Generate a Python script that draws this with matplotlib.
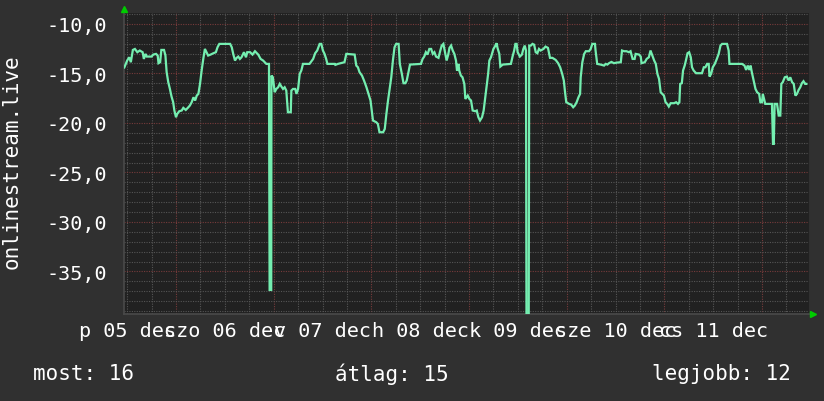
import matplotlib
matplotlib.use('Agg')
import matplotlib.pyplot as plt
from matplotlib.ticker import FixedLocator, FuncFormatter

# ---- data: hours since 06 dec 00:00, value ----
hours = [-12.7, -12.0, -11.5, -11.1, -10.6, -10.1, -9.5, -8.9, -8.2, -7.9, -7.5, -7.2, -6.0, -5.6,
         -4.9, -4.5, -4.3, -3.9, -3.6, -2.95, -2.6, -2.3, -1.9, -1.5, -1.1, -0.7, -0.4, 0.0, 0.3,
         0.8, 1.4, 1.8, 2.4, 2.9, 3.4, 3.85, 4.3, 4.7, 5.1, 5.5, 5.9, 6.3, 6.7, 7.1, 7.5, 7.9, 8.5,
         9.2, 9.8, 10.2, 10.65, 13.3, 13.7, 14.1, 14.5, 14.9, 15.3, 15.7, 16.1, 16.7, 17.2, 17.5,
         18.2, 18.8, 19.4, 20.2,
         20.8, 21.4, 22.2, 22.85, 23.0, 23.4, 23.45, 23.8, 24.25, 24.65, 25.1, 25.5, 25.9, 26.3,
         26.7, 27.1, 27.5, 28.2, 28.35, 28.75, 29.3, 29.6, 30.0, 30.4, 30.8, 31.2, 32.8, 33.7,
         34.2, 34.7, 35.3, 35.7, 36.1, 36.5, 36.9, 37.2, 39.0, 39.15, 39.8, 41.4, 41.85, 43.9,
         44.3, 44.7, 45.1, 45.7, 46.2, 46.8, 47.3, 47.8, 48.4, 49.2, 49.6, 50.0, 50.9, 51.3,
         51.7, 52.1, 52.5, 52.9, 53.3, 53.7, 54.1,
         54.7, 55.0, 55.5, 55.9, 56.35, 56.7, 57.2, 57.5, 60.2, 60.6, 61.0, 61.4, 61.8, 62.25,
         62.7, 63.1, 63.5, 63.9, 64.5, 64.95, 65.3, 65.7, 66.1, 66.5, 66.9, 67.2, 67.6, 68.0,
         68.4, 68.8, 69.05, 69.4, 69.6, 70.0, 70.4, 70.85, 71.1, 71.7, 72.1, 72.5, 72.9, 73.55,
         73.9, 74.3, 74.7, 75.2, 75.6, 76.0, 76.4, 76.7, 77.0, 77.4, 78.0, 78.5, 78.8, 79.0,
         79.45, 79.7, 80.3, 82.3, 82.7, 83.1, 83.4, 83.7, 83.95, 84.5, 85.0, 85.35, 85.7, 86.0,
         86.15, 86.65, 86.8, 87.2, 87.6, 88.0,
         88.4, 88.8, 89.2, 89.6, 90.3, 90.8, 91.4, 91.9, 92.5, 93.3, 93.9, 94.4, 94.9, 95.3,
         95.6, 95.9, 96.6, 97.1, 97.6, 98.0, 98.45, 98.9, 99.3, 99.45, 99.85, 100.3, 100.7,
         101.5, 101.9, 102.3, 102.95, 103.1, 103.5, 104.35, 105.2, 105.6, 106.0, 106.4, 107.0,
         107.6, 108.3, 109.3, 109.6, 110.1, 110.7, 111.3, 111.7, 112.2, 112.7, 112.95, 113.8,
         114.2, 114.4, 115.2, 115.65, 116.2, 116.6, 117.05, 117.5, 117.9, 118.3, 118.7, 119.1,
         119.5, 119.9, 120.3, 120.7, 121.1, 121.55, 122.4,
         122.9, 123.35, 123.7, 123.9, 124.3, 124.6, 125.0, 125.3, 125.7, 126.1, 126.5, 126.8,
         127.2, 127.8, 129.25, 129.7, 130.1, 130.5, 130.9, 131.1, 131.5, 131.9, 132.4, 132.9,
         133.35, 133.8, 134.2, 135.4, 135.8, 136.0, 139.1, 139.7, 140.1, 140.5, 140.9, 141.2,
         141.5, 141.95, 142.4, 142.8, 143.3, 143.6, 144.0, 144.2, 144.6, 144.8, 146.45, 146.7,
         146.9, 147.1, 147.7, 148.1, 148.5, 148.75, 149.1, 149.6, 150.1, 150.55, 150.95, 151.4,
         151.8, 152.2, 152.6, 153.0, 153.4, 153.8, 154.2, 154.6, 154.9]

values = [-14.4, -13.7, -13.37, -13.87, -12.63, -12.53, -12.86, -12.69, -12.86, -13.54, -13.03,
          -13.3, -13.3, -13.1, -13.03, -13.2, -13.97, -13.87, -12.63, -12.63, -13.2, -14.88,
          -15.89, -16.57, -17.34, -17.91, -18.75, -19.43, -19.09, -18.82, -18.75, -18.48, -18.69,
          -18.48, -18.25, -17.91, -17.41, -17.74, -17.24, -17.07, -16.06, -14.71, -13.54, -12.53,
          -12.86, -13.2, -13.1, -12.96, -12.86, -12.36, -12.02, -12.02, -12.36, -13.1, -13.7,
          -13.43, -13.3, -13.54, -13.37, -12.86, -13.37, -12.86, -12.86, -13.1, -12.76, -13.1,
          -13.54, -13.7, -14.04, -14.04, -36.87, -36.87, -15.22, -15.39, -16.9, -16.57, -16.4,
          -16.06, -16.33, -16.57, -16.4, -16.73, -18.92, -18.92, -16.73, -16.57, -16.57, -17.07,
          -16.57, -15.05, -14.71, -14.04, -14.04, -13.54, -12.96, -12.69, -12.02, -12.02, -12.69,
          -13.03, -13.54, -14.04, -14.04, -14.14, -14.04, -13.87, -13.03, -13.1, -14.21, -14.38,
          -14.88, -15.22, -15.72, -16.4, -17.07, -17.74, -19.76, -19.93, -20.1, -20.94, -20.94,
          -20.61, -19.09, -17.74, -16.57, -15.39, -13.7, -12.36, -12.02,
          -12.02, -14.04, -15.05, -15.99, -15.99, -15.72, -14.71, -14.11, -14.04, -13.54, -13.3,
          -12.86, -13.1, -12.53, -12.53, -13.03, -12.86, -13.3, -13.43, -12.69, -12.19, -12.02,
          -12.86, -13.7, -13.1, -12.42, -12.19, -12.69, -13.03, -13.7, -14.71, -14.04, -14.71,
          -15.22, -15.39, -16.06, -17.58, -17.24, -17.58, -17.74, -18.75, -18.82, -18.75, -19.43,
          -19.76, -19.43, -18.75, -17.41, -16.06, -15.05, -13.7, -13.37, -12.53, -12.19, -11.95,
          -12.42, -13.03, -14.31, -14.11, -14.04, -13.3, -12.69, -12.02, -12.02, -12.86, -13.3,
          -13.1, -12.53, -12.19, -12.69, -45.0, -45.0, -12.19, -12.19, -12.02, -12.1,
          -12.86, -12.96, -12.53, -12.69, -12.53, -12.29, -12.42, -13.43, -13.43, -13.64, -13.97,
          -14.38, -15.05, -15.72, -16.9, -17.91, -18.08, -18.15, -18.42, -18.25, -17.91, -17.41,
          -17.07, -15.39, -13.87, -13.03, -12.76, -12.76, -12.53, -12.02, -12.02, -12.69, -14.04,
          -14.11, -14.21, -14.04, -14.11, -13.97, -13.84, -13.97, -13.91, -13.87, -12.69, -12.76,
          -12.76, -12.86, -12.76, -13.54, -13.54, -13.03, -13.1, -13.3, -13.97, -13.87, -13.54,
          -13.37, -12.69, -13.2, -13.7, -14.04, -15.05, -15.56, -16.9, -17.07, -17.24, -17.91,
          -18.08, -18.35, -18.01, -18.01,
          -17.91, -18.08, -17.91, -16.06, -15.99, -14.71, -14.21, -13.7, -12.96, -12.86, -13.37,
          -14.38, -14.71, -14.98, -14.98, -14.38, -14.38, -14.04, -14.04, -15.32, -15.05, -14.38,
          -14.04, -13.54, -13.03, -12.19, -12.02, -12.02, -12.69, -14.04, -14.04, -14.21, -14.65,
          -14.21, -14.65, -14.21, -14.88, -15.72, -16.57, -16.9, -17.07, -17.91, -17.91, -17.07,
          -17.74, -18.08, -18.08, -22.12, -22.12, -18.08, -18.08, -19.26, -19.26, -16.06, -15.89,
          -15.39, -15.32, -15.72, -15.39, -15.89, -16.06, -17.24, -17.07, -16.67, -16.4, -15.99,
          -15.79, -16.06, -16.06]

day_label_hours = [-12, 12, 36, 60, 84, 108, 132]
day_labels = ['p 05 dec', 'szo 06 dec', 'v 07 dec', 'h 08 dec', 'k 09 dec', 'sze 10 dec', 'cs 11 dec']
y_ticks = [-35, -30, -25, -20, -15, -10]
y_label = 'onlinestream.live'
stat_names = ['most', 'átlag', 'legjobb']
stat_values = [16, 15, 12]

# ---- style ----
BG = '#303030'
PLOT_BG = '#212121'
LINE = '#74eeb0'
MINOR = '#555555'
MAJOR = '#773b3b'
FONT = 'DejaVu Sans Mono'
plt.rcParams['font.family'] = [FONT]

W, H = 824, 402
fig = plt.figure(figsize=(W / 100, H / 100), dpi=100, facecolor=BG)
ax = fig.add_axes([124 / W, 87 / H, 685 / W, 301 / H])
ax.set_facecolor(PLOT_BG)
x0, x1 = -12.78, 155.55
y0, y1 = -39.3, -8.9
ax.set_xlim(x0, x1)
ax.set_ylim(y0, y1)

dots = (0, (1, 1.2))
for h in range(-12, 156, 6):
    if x0 < h < x1:
        ax.axvline(h, color=MAJOR if h % 24 == 0 else MINOR, lw=0.8, ls=dots, zorder=1)
for v in range(-39, -8):
    ax.axhline(v, color=MAJOR if v % 5 == 0 else MINOR, lw=0.8, ls=dots, zorder=1)

ax.plot(hours, values, color=LINE, lw=1.6, zorder=3, solid_joinstyle='miter')

ax.yaxis.set_major_locator(FixedLocator(y_ticks))
ax.yaxis.set_major_formatter(FuncFormatter(lambda v, p: f'{v:.1f}'.replace('.', ',')))
ax.xaxis.set_major_locator(FixedLocator(day_label_hours))
ax.set_xticklabels(day_labels)
ax.tick_params(axis='y', length=0, pad=12, labelsize=14.5, labelcolor='white')
ax.tick_params(axis='x', length=0, pad=5, labelsize=14.5, labelcolor='white')
for s in ['top', 'right']:
    ax.spines[s].set_visible(False)
for s in ['left', 'bottom']:
    ax.spines[s].set_color('#4a4a4a')
    ax.spines[s].set_linewidth(1.2)

# axis arrows
ax.plot([0], [1.014], marker='^', color='#00cc00', markersize=5, transform=ax.transAxes,
        clip_on=False, zorder=5)
ax.plot([1.006], [0], marker='>', color='#00cc00', markersize=5, transform=ax.transAxes,
        clip_on=False, zorder=5)

fig.text(12 / W, 1 - 162 / H, y_label, rotation=90, ha='center', va='center',
         color='white', fontsize=15)

ty = 1 - 374 / H
fig.text(33 / W, ty, f'{stat_names[0]}: {stat_values[0]}', ha='left', va='center',
         color='white', fontsize=15)
fig.text(392 / W, ty, f'{stat_names[1]}: {stat_values[1]}', ha='center', va='center',
         color='white', fontsize=15)
fig.text(791 / W, ty, f'{stat_names[2]}: {stat_values[2]}', ha='right', va='center',
         color='white', fontsize=15)

fig.savefig('out.png', dpi=100, facecolor=BG)
